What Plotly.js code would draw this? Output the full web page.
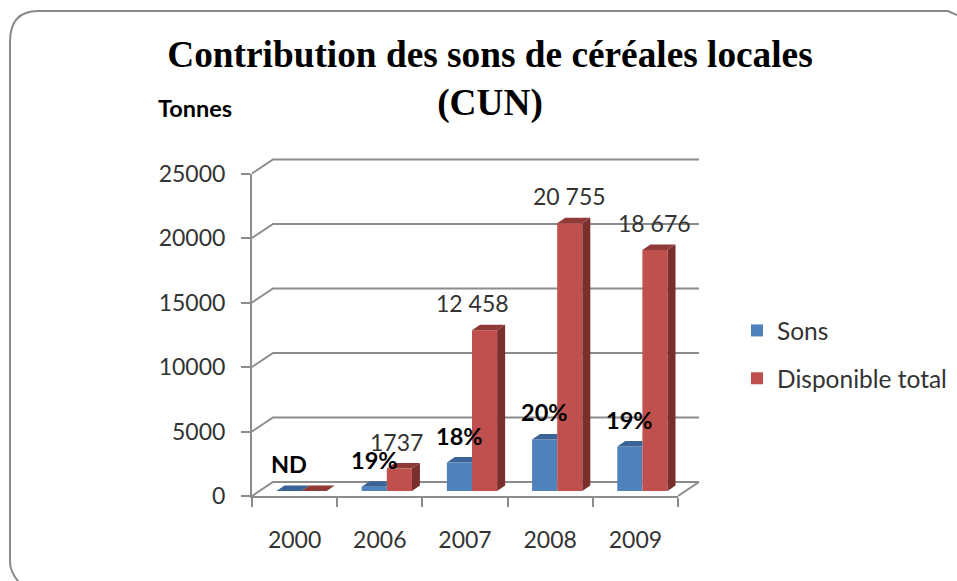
<!DOCTYPE html>
<html>
<head>
<meta charset="utf-8">
<script src="https://cdn.plot.ly/plotly-3.0.1.min.js"></script>
<style>
html, body { margin: 0; padding: 0; background: #fff; overflow: hidden; }
#chart { width: 957px; height: 581px; }
</style>
</head>
<body>
<div id="chart"></div>
<script>
const categories = ["2000", "2006", "2007", "2008", "2009"];
const sons = [0, 330, 2200, 4000, 3450];
const disponible = [0, 1737, 12458, 20755, 18676];
const sonsLabels = ["ND", "19%", "18%", "20%", "19%"];
const disponibleLabels = ["", "1737", "12 458", "20 755", "18 676"];
const yTicks = [0, 5000, 10000, 15000, 20000, 25000];

const W = 957, H = 581;
const GREY = "#8c8c8c", BLUE = "#4f81bd", RED = "#c0504d";

// pixel box -> axis domain
function domX(a, b) { return [a / W, b / W]; }
function domY(top, bottom) { return [1 - bottom / H, 1 - top / H]; }

// the fake 3d: front axes, back wall and bars are three plots slid along the diagonal
const front = {left: 252, right: 678, top: 173.5, bottom: 496};
const wallShift = {x: 21, y: 14};
const barShift = {x: 7, y: 5};
const pad = 4;

const unitX = (front.right - front.left) / categories.length;   // px per category
const unitY = (front.bottom - front.top) / 25000;               // px per tonne
const bargap = 0.41;
const barW = (1 - bargap) / 2;
const depthX = 8 / unitX, depthY = 5.5 / unitY;

const idx = categories.map(function(c, i) { return i; });

// cage drawn in front-axis coordinates, so the y and x values come from the ticks
const backX = wallShift.x / unitX, backY = wallShift.y / unitY;
let wallX = [], wallY = [];
yTicks.forEach(function(t) {
    wallX.push(-0.5, -0.5 + backX, 4.5 + backX, null);
    wallY.push(t, t + backY, t + backY, null);
});
wallX.push(4.5, 4.5 + backX);
wallY.push(0, backY);

function topFaces(values, x0, x1) {
    let xs = [], ys = [];
    values.forEach(function(v, i) {
        const l = i + x0, r = i + x1;
        xs.push(l, l + depthX, r + depthX, r, l, null);
        ys.push(v, v + depthY, v + depthY, v, v, null);
    });
    return {x: xs, y: ys};
}

function blueTops() {
    let xs = [], ys = [];
    sons.forEach(function(v, i) {
        const l = i - barW, r = i;
        // right corner is hidden behind the taller red bar
        const far = disponible[i] > v ? r : r + depthX;
        xs.push(l, l + depthX, far, r, l, null);
        ys.push(v, v + depthY, v + depthY, v, v, null);
    });
    return {x: xs, y: ys};
}

function sideFaces(values, x1) {
    let xs = [], ys = [];
    values.forEach(function(v, i) {
        const r = i + x1;
        xs.push(r, r + depthX, r + depthX, r, r, null);
        ys.push(0, depthY, v + depthY, v, 0, null);
    });
    return {x: xs, y: ys};
}

function face(points, color) {
    return {
        x: points.x, y: points.y, xaxis: "x3", yaxis: "y3",
        type: "scatter", mode: "lines", fill: "toself", fillcolor: color,
        line: {width: 0}, showlegend: false, hoverinfo: "skip", cliponaxis: false,
    };
}

const blueTop = blueTops();
const redTop = topFaces(disponible, 0, barW);
const redSide = sideFaces(disponible, barW);

let data = [
    {
        x: categories, y: categories.map(function() { return 0; }),
        type: "scatter", mode: "lines", line: {width: 0},
        showlegend: false, hoverinfo: "skip",
    },
    {
        x: wallX, y: wallY, xaxis: "x2", yaxis: "y2",
        type: "scatter", mode: "lines", line: {color: GREY, width: 2},
        showlegend: false, hoverinfo: "skip",
    },
    {x: idx, y: sons, name: "Sons", legendgroup: "a", type: "bar", xaxis: "x3", yaxis: "y3", marker: {color: BLUE}},
    {x: idx, y: disponible, name: "Disponible total", legendgroup: "b", type: "bar", xaxis: "x3", yaxis: "y3", marker: {color: RED}},
    face(blueTop, "#3b6496"),
    face(redTop, "#8f3a37"),
    face(redSide, "#7b2f2d"),
];

const labelFont = {family: "Lato, sans-serif", size: 23, color: "#333"};
const legendFont = {family: "Lato, sans-serif", size: 24.5, color: "#333"};
const boldFont = {family: "Lato, sans-serif", size: 23.5, color: "#000"};

let annotations = [{
    text: "<b>Tonnes</b>", xref: "paper", yref: "paper",
    x: 195 / W, y: 1 - 108 / H, xanchor: "center", yanchor: "middle", showarrow: false, font: boldFont,
}];

sonsLabels.forEach(function(t, i) {
    annotations.push({
        text: "<b>" + t + "</b>", xref: "x3", yref: "y3", x: i - barW / 2, y: sons[i],
        yshift: 27, showarrow: false, font: boldFont,
    });
});
disponibleLabels.forEach(function(t, i) {
    if (!t) return;
    annotations.push({
        text: t, xref: "x3", yref: "y3", x: i + barW / 2, y: disponible[i],
        yshift: 27, xshift: i === 2 ? -12 : (i === 1 ? -3 : 0), showarrow: false, font: labelFont,
    });
});

let layout = {
    width: W, height: H,
    margin: {l: 0, r: 0, t: 0, b: 0},
    paper_bgcolor: "#fff", plot_bgcolor: "rgba(0,0,0,0)",
    barmode: "group", bargap: bargap, bargroupgap: 0,
    title: {
        text: "<b>Contribution des sons de céréales locales<br>(CUN)</b>",
        font: {family: "Liberation Serif, serif", size: 37.3, color: "#000"},
        x: 490 / W, xanchor: "center", y: 1 - 67 / H, yanchor: "top",
    },
    xaxis: {
        domain: domX(front.left, front.right),
        type: "category", categoryarray: categories, range: [-0.5, 4.5],
        showgrid: false, zeroline: false, showline: true, linecolor: GREY, linewidth: 2,
        ticks: "outside", tickson: "boundaries", ticklen: 9, tickwidth: 2, tickcolor: GREY,
        tickfont: labelFont, ticklabelstandoff: 22,
    },
    yaxis: {
        domain: domY(front.top, front.bottom),
        range: [0, 25000], tickvals: yTicks, ticktext: yTicks.map(String),
        showgrid: false, zeroline: false, showline: true, linecolor: GREY, linewidth: 2,
        ticks: "outside", ticklen: 9, tickwidth: 2, tickcolor: GREY,
        tickfont: labelFont, ticklabelstandoff: 11,
    },
    // wall box is wide enough to hold the connectors, grid comes from the trace
    xaxis2: {
        domain: domX(front.left - pad, front.right + wallShift.x + pad),
        anchor: "y2", range: [-0.5 - pad / unitX, 4.5 + (wallShift.x + pad) / unitX],
        showgrid: false, zeroline: false, showticklabels: false, ticks: "",
    },
    yaxis2: {
        domain: domY(front.top - wallShift.y - pad, front.bottom + pad),
        anchor: "x2", range: [-pad / unitY, 25000 + (wallShift.y + pad) / unitY],
        showgrid: false, zeroline: false, showticklabels: false, ticks: "",
    },
    xaxis3: {
        domain: domX(front.left + barShift.x, front.right + barShift.x),
        anchor: "y3", range: [-0.5, 4.5], showgrid: false, zeroline: false,
        showticklabels: false, ticks: "",
    },
    yaxis3: {
        domain: domY(front.top - barShift.y, front.bottom - barShift.y),
        anchor: "x3", range: [0, 25000], showgrid: false, zeroline: false,
        showticklabels: false, ticks: "",
    },
    legend: {
        x: 737 / W, y: 1 - 308 / H, xanchor: "left", yanchor: "top",
        font: legendFont, traceorder: "grouped", tracegroupgap: 13,
        itemclick: false, itemdoubleclick: false, bgcolor: "rgba(0,0,0,0)",
    },
    annotations: annotations,
    shapes: [{
        type: "path", xref: "paper", yref: "paper", layer: "below",
        path: "M " + 22 / W + " " + (1 - 585 / H) +
              " Q " + 11 / W + " " + (1 - 575 / H) + " " + 10 / W + " " + (1 - 563 / H) +
              " L " + 10 / W + " " + (1 - 42 / H) +
              " Q " + 10 / W + " " + (1 - 11 / H) + " " + 38 / W + " " + (1 - 11 / H) +
              " L " + 948 / W + " " + (1 - 11 / H) +
              " L " + 957 / W + " " + (1 - 15 / H),
        line: {color: "#8a8a8a", width: 2},
    }],
};

Plotly.newPlot("chart", data, layout, {displayModeBar: false, responsive: false});
</script>
</body>
</html>
